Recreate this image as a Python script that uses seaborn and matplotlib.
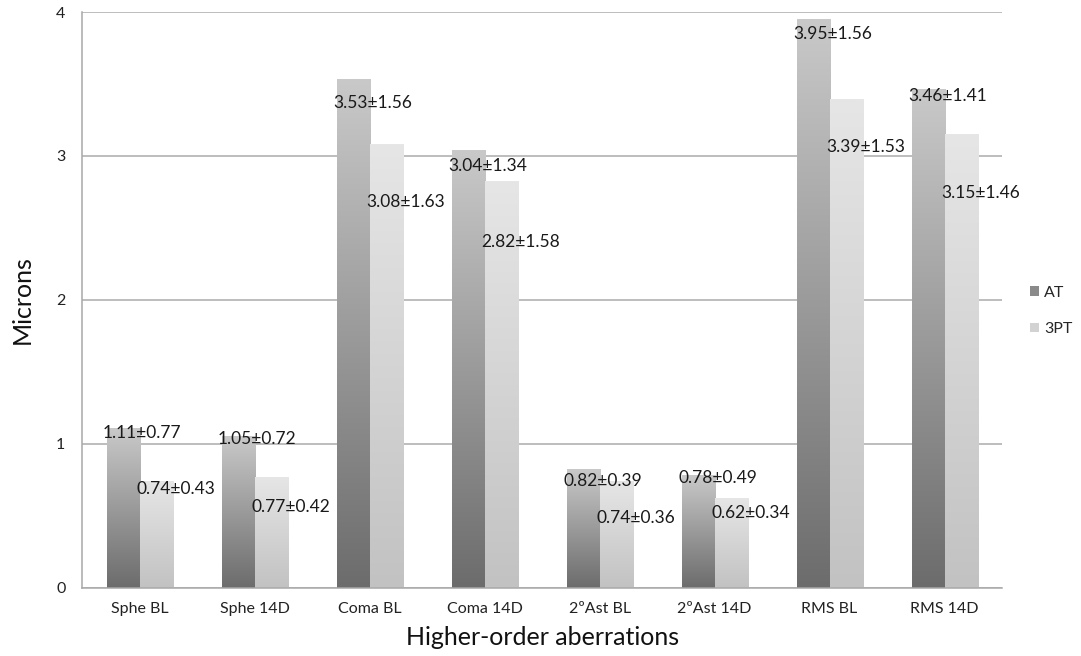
import numpy as np
import pandas as pd
import matplotlib
matplotlib.use("Agg")
import matplotlib.pyplot as plt
from matplotlib.colors import LinearSegmentedColormap
from matplotlib.patches import Patch
import seaborn as sns

# Higher-order aberration groups and the two series (mean ± SD, microns)
categories = ["Sphe BL", "Sphe 14D", "Coma BL", "Coma 14D",
              "2ºAst BL", "2ºAst 14D", "RMS BL", "RMS 14D"]
series = ["AT", "3PT"]
at_mean = [1.11, 1.05, 3.53, 3.04, 0.82, 0.78, 3.95, 3.46]
at_sd = [0.77, 0.72, 1.56, 1.34, 0.39, 0.49, 1.56, 1.41]
pt_mean = [0.74, 0.77, 3.08, 2.82, 0.74, 0.62, 3.39, 3.15]
pt_sd = [0.43, 0.42, 1.63, 1.58, 0.36, 0.34, 1.53, 1.46]
y_ticks = [0, 1, 2, 3, 4]

# Vertical placement of each value label (data units)
at_label_y = [1.076, 1.035, 3.368, 2.931, 0.743, 0.764, 3.847, 3.417]
pt_label_y = [0.688, 0.562, 2.681, 2.403, 0.486, 0.521, 3.062, 2.743]

df = pd.DataFrame({
    "group": categories * 2,
    "series": [series[0]] * len(categories) + [series[1]] * len(categories),
    "value": at_mean + pt_mean,
})

sns.set_theme(style="white")
plt.rcParams["font.family"] = ["Lato", "DejaVu Sans"]

fig = plt.figure(figsize=(10.81, 6.56), dpi=100)
ax = fig.add_axes([0.0759, 0.1037, 0.8511, 0.878])

sns.barplot(data=df, x="group", y="value", hue="series", order=categories,
            hue_order=series, palette={"AT": "#8c8c8c", "3PT": "#d4d4d4"},
            width=0.574, gap=0, errorbar=None, legend=False, ax=ax)

# Vertical grey gradients per bar (dark at the base, light at the top)
ramps = {
    "AT": LinearSegmentedColormap.from_list("at", ["#6c6c6c", "#c9c9c9"]),
    "3PT": LinearSegmentedColormap.from_list("pt", ["#c2c2c2", "#e6e6e6"]),
}
grad = np.linspace(0, 1, 256).reshape(-1, 1)
for name, container in zip(series, ax.containers):
    for bar in container.patches:
        x0, w, h = bar.get_x(), bar.get_width(), bar.get_height()
        ax.imshow(grad, cmap=ramps[name], origin="lower", aspect="auto",
                  extent=[x0, x0 + w, 0, h], zorder=2, interpolation="bilinear")
        bar.set_facecolor("none")
        bar.set_edgecolor("none")

# Value labels "mean±SD"
for name, container, means, sds, ys in zip(
        series, ax.containers, [at_mean, pt_mean], [at_sd, pt_sd],
        [at_label_y, pt_label_y]):
    for bar, m, s, yl in zip(container.patches, means, sds, ys):
        ax.text(bar.get_x() - 0.03, yl, f"{m:.2f}±{s:.2f}", ha="left",
                va="center", fontsize=12.5, color="#1a1a1a", zorder=5)

ax.set_xlim(-0.5, len(categories) - 0.5)
ax.set_ylim(0, 4)
ax.set_yticks(y_ticks)
ax.set_yticklabels([str(t) for t in y_ticks])
ax.yaxis.grid(True, color="#ababab", linewidth=1.1, zorder=0)
ax.set_axisbelow(True)

for side in ["top", "right"]:
    ax.spines[side].set_visible(False)
for side in ["left", "bottom"]:
    ax.spines[side].set_color("#a8a8a8")
    ax.spines[side].set_linewidth(1.1)

ax.tick_params(axis="both", length=0, labelsize=11.5, colors="#222222")
ax.tick_params(axis="x", pad=10)
ax.tick_params(axis="y", pad=12)

ax.set_xlabel("Higher-order aberrations", fontsize=18, color="#111111", labelpad=7)
ax.set_ylabel("Microns", fontsize=18, color="#111111", labelpad=16)

handles = [Patch(facecolor="#8a8a8a", edgecolor="none"),
           Patch(facecolor="#d2d2d2", edgecolor="none")]
fig.legend(handles, series, loc="center left", bbox_to_anchor=(0.953, 0.526),
           frameon=False, borderpad=0, borderaxespad=0,
           handlelength=0.55, handleheight=0.55, handletextpad=0.3,
           labelspacing=1.4, fontsize=11.5)

fig.savefig("out.png", dpi=100, facecolor="white")
